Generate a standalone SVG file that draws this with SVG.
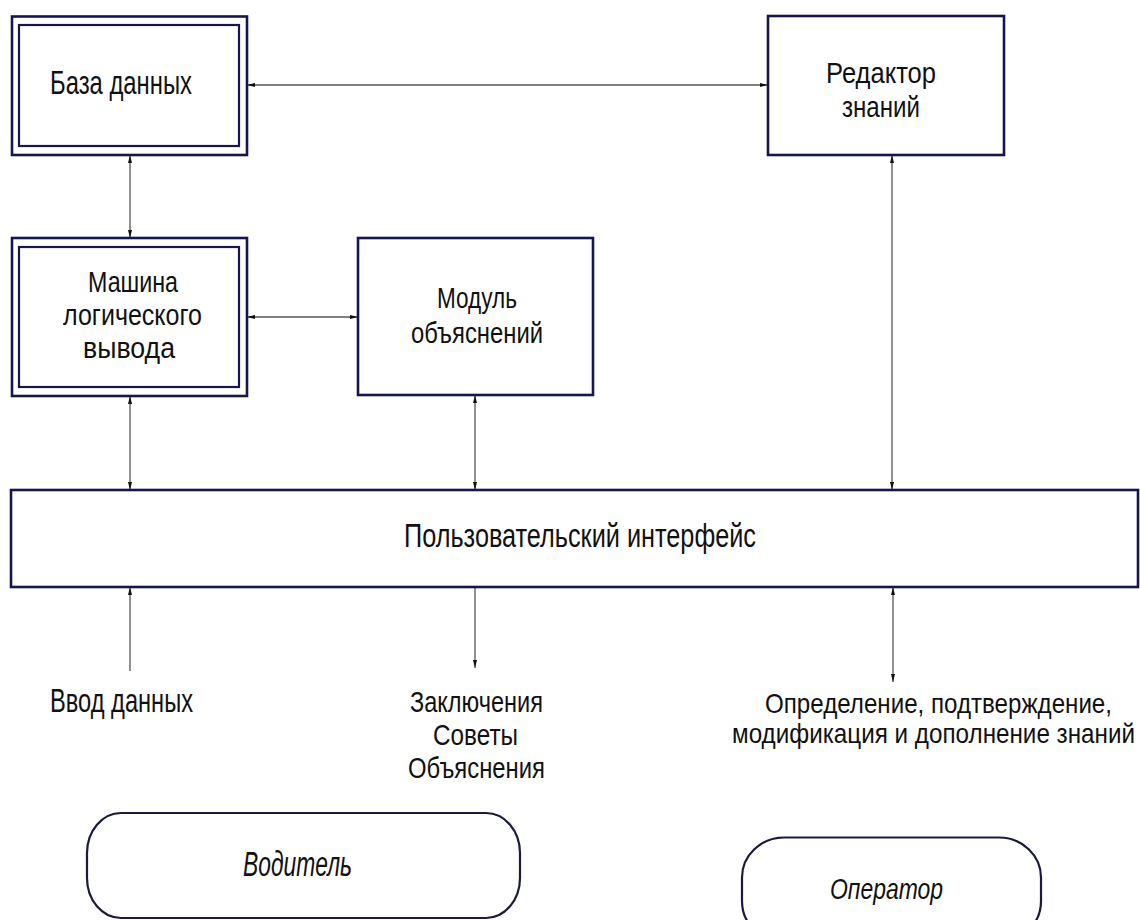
<svg xmlns="http://www.w3.org/2000/svg" width="1140" height="920" viewBox="0 0 1140 920">
  <style>
    .bg { fill: #ffffff; }
    .box { fill: #ffffff; stroke: #16164c; stroke-width: 2.6; }
    .inner { fill: none; stroke: #16164c; stroke-width: 2.2; }
    .pill { fill: #ffffff; stroke: #1a1a40; stroke-width: 2.2; }
    .link { fill: none; stroke: #555555; stroke-width: 1.3; }
    .t { font-family: "Liberation Sans", Arial, sans-serif; font-size: 24px; fill: #111111; }
    .ti { font-family: "Liberation Sans", Arial, sans-serif; font-style: italic; font-size: 24px; fill: #111111; }
  </style>
  <defs>
    <marker id="tip" viewBox="0 0 8 4" refX="8" refY="2" markerWidth="8" markerHeight="4" markerUnits="userSpaceOnUse" orient="auto-start-reverse">
      <path d="M0,0 L8,2 L0,4 z" fill="#111111"/>
    </marker>
  </defs>

  <rect class="bg" x="0" y="0" width="1140" height="920"/>

  <!-- connectors -->
  <g id="connectors">
    <path class="link" d="M247,85 H768" marker-start="url(#tip)" marker-end="url(#tip)"/>
    <path class="link" d="M130,155 V238" marker-start="url(#tip)" marker-end="url(#tip)"/>
    <path class="link" d="M247,317 H358" marker-start="url(#tip)" marker-end="url(#tip)"/>
    <path class="link" d="M130,396 V490" marker-start="url(#tip)" marker-end="url(#tip)"/>
    <path class="link" d="M475,395 V490" marker-start="url(#tip)" marker-end="url(#tip)"/>
    <path class="link" d="M892,155 V490" marker-start="url(#tip)" marker-end="url(#tip)"/>
    <path class="link" d="M130,587 V671" marker-start="url(#tip)"/>
    <path class="link" d="M475,587 V668" marker-end="url(#tip)"/>
    <path class="link" d="M893,587 V682" marker-start="url(#tip)" marker-end="url(#tip)"/>
  </g>

  <!-- database -->
  <g id="database">
    <rect class="box" x="12" y="16.5" width="235" height="138.5"/>
    <rect class="inner" x="19" y="25" width="220" height="121"/>
    <text class="t" transform="translate(50,94) scale(1,1.4)" textLength="142" lengthAdjust="spacingAndGlyphs">База данных</text>
  </g>

  <!-- knowledge editor -->
  <g id="knowledge-editor">
    <rect class="box" x="768" y="16" width="236" height="139"/>
    <text class="t" transform="translate(826,83) scale(1,1.22)" textLength="110" lengthAdjust="spacingAndGlyphs">Редактор</text>
    <text class="t" transform="translate(842,117) scale(1,1.22)" textLength="78" lengthAdjust="spacingAndGlyphs">знаний</text>
  </g>

  <!-- inference engine -->
  <g id="inference-engine">
    <rect class="box" x="12" y="238" width="235" height="158"/>
    <rect class="inner" x="19" y="247" width="220" height="140"/>
    <text class="t" transform="translate(88,292) scale(1,1.2)" textLength="90" lengthAdjust="spacingAndGlyphs">Машина</text>
    <text class="t" transform="translate(63,325) scale(1,1.2)" textLength="139" lengthAdjust="spacingAndGlyphs">логического</text>
    <text class="t" transform="translate(83,358) scale(1,1.2)" textLength="92" lengthAdjust="spacingAndGlyphs">вывода</text>
  </g>

  <!-- explanation module -->
  <g id="explanation-module">
    <rect class="box" x="358" y="238" width="235" height="157"/>
    <text class="t" transform="translate(437,308) scale(1,1.25)" textLength="80" lengthAdjust="spacingAndGlyphs">Модуль</text>
    <text class="t" transform="translate(411,343) scale(1,1.25)" textLength="132" lengthAdjust="spacingAndGlyphs">объяснений</text>
  </g>

  <!-- user interface -->
  <g id="user-interface">
    <rect class="box" x="11" y="490" width="1127" height="97"/>
    <text class="t" transform="translate(404,547) scale(1,1.4)" textLength="352" lengthAdjust="spacingAndGlyphs">Пользовательский интерфейс</text>
  </g>

  <!-- flow labels -->
  <g id="label-input">
    <text class="t" transform="translate(50,712) scale(1,1.4)" textLength="143" lengthAdjust="spacingAndGlyphs">Ввод данных</text>
  </g>
  <g id="label-output">
    <text class="t" transform="translate(410,712) scale(1,1.22)" textLength="133" lengthAdjust="spacingAndGlyphs">Заключения</text>
    <text class="t" transform="translate(433,745) scale(1,1.22)" textLength="85" lengthAdjust="spacingAndGlyphs">Советы</text>
    <text class="t" transform="translate(408,778) scale(1,1.22)" textLength="137" lengthAdjust="spacingAndGlyphs">Объяснения</text>
  </g>
  <g id="label-knowledge">
    <text class="t" transform="translate(765,713) scale(1,1.12)" textLength="347" lengthAdjust="spacingAndGlyphs">Определение, подтверждение,</text>
    <text class="t" transform="translate(732,743) scale(1,1.12)" textLength="403" lengthAdjust="spacingAndGlyphs">модификация и дополнение знаний</text>
  </g>

  <!-- actors -->
  <g id="driver">
    <rect class="pill" x="87" y="813" width="433" height="105" rx="34" ry="40"/>
    <text class="ti" transform="translate(243,876) scale(1,1.45)" textLength="109" lengthAdjust="spacingAndGlyphs">Водитель</text>
  </g>
  <g id="operator">
    <rect class="pill" x="742" y="837.5" width="299" height="104" rx="42" ry="40"/>
    <text class="ti" transform="translate(830,899) scale(1,1.2)" textLength="113" lengthAdjust="spacingAndGlyphs">Оператор</text>
  </g>
</svg>
